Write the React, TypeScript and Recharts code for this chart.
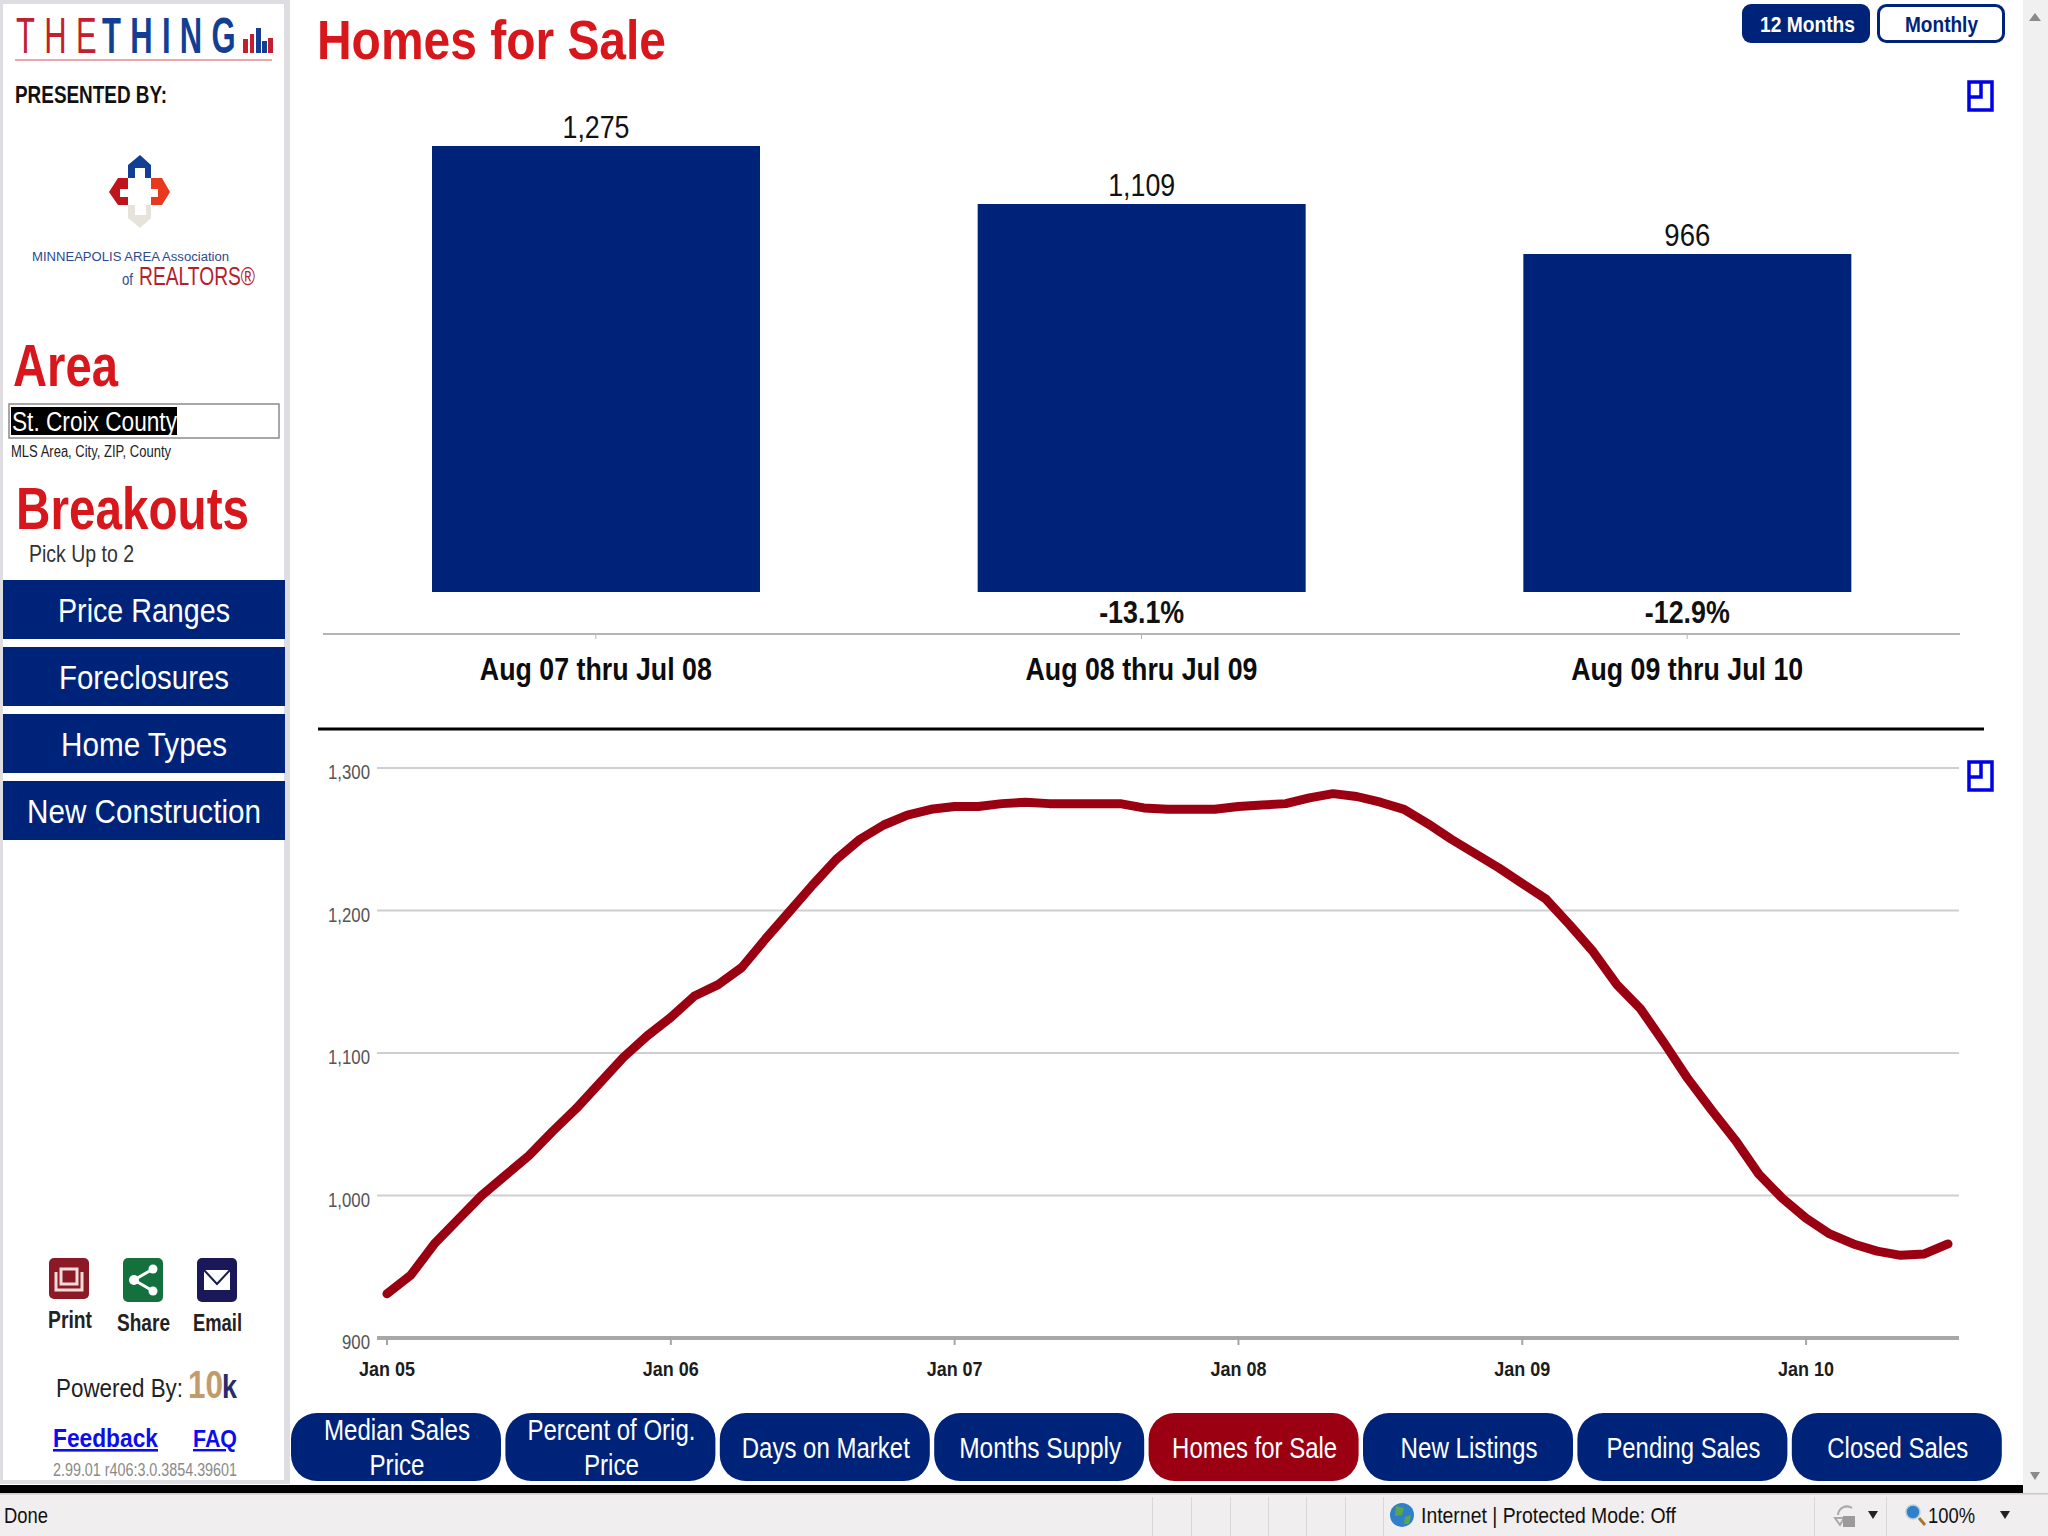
import React from "react";
import { BarChart, Bar, LineChart, Line, XAxis, YAxis, CartesianGrid, LabelList } from "recharts";

const NAVY = "#00237a";
const MAROON = "#9a0012";
const RED = "#d8171c";
const FONT = "'Liberation Sans', Arial, sans-serif";

const periodLabels = ["Aug 07 thru Jul 08", "Aug 08 thru Jul 09", "Aug 09 thru Jul 10"];
const periodValues = [1275, 1109, 966];
const periodChanges = ["", "-13.1%", "-12.9%"];

const monthNames = ["Jan", "Feb", "Mar", "Apr", "May", "Jun", "Jul", "Aug", "Sep", "Oct", "Nov", "Dec"];
const yearNames = ["05", "06", "07", "08", "09", "10"];
const monthLabels = yearNames.flatMap((yr) => monthNames.map((m) => `${m} ${yr}`)).slice(0, 67);

const homesForSale = [
  931, 944, 966, 983, 1000, 1014, 1028, 1045, 1061, 1079, 1097, 1112,
  1125, 1140, 1148, 1160, 1180, 1199, 1218, 1236, 1250, 1260, 1267, 1271,
  1273, 1273, 1275, 1276, 1275, 1275, 1275, 1275, 1272, 1271, 1271, 1271,
  1273, 1274, 1275, 1279, 1282, 1280, 1276, 1271, 1261, 1250, 1240, 1230,
  1219, 1208, 1190, 1171, 1148, 1131, 1107, 1082, 1060, 1039, 1015, 998,
  984, 973, 966, 961, 958, 959, 966,
];
const lineTicks = [900, 1000, 1100, 1200, 1300];

const navLabels = ["Price Ranges", "Foreclosures", "Home Types", "New Construction"];
const navWidths = [172, 170, 166, 234];
const tabLabels = [
  ["Median Sales", "Price"],
  ["Percent of Orig.", "Price"],
  ["Days on Market"],
  ["Months Supply"],
  ["Homes for Sale"],
  ["New Listings"],
  ["Pending Sales"],
  ["Closed Sales"],
];
const tabWidths = [[146, 55], [168, 55], [168], [162], [165], [137], [154], [141]];

const barData = periodLabels.map((label, i) => ({ label, value: periodValues[i], change: periodChanges[i] }));
const lineData = monthLabels.map((month, i) => ({ month, homes: homesForSale[i] }));

// squeezed text, the screenshot is stretched taller than it is wide
const T = ({ x, y, s, w, c = "#111", b = false, a = "start", u = false, f = FONT, children }: any) => (
  <text
    x={x}
    y={y}
    fontSize={s}
    fontFamily={f}
    fontWeight={b ? 700 : 400}
    fill={c}
    textAnchor={a}
    textLength={w}
    lengthAdjust="spacingAndGlyphs"
    textDecoration={u ? "underline" : undefined}
  >
    {children}
  </text>
);

const PeriodTick = ({ x, y, payload }: any) => (
  <T x={x} y={y + 39} s={32} w={232} b a="middle" c="#0c0c0c">{payload.value}</T>
);

const YearTick = ({ x, y, payload }: any) => (
  <T x={x} y={y + 29} s={21} w={56} b a="middle" c="#1c1c1c">{payload.value}</T>
);

const CountTick = ({ x, y, payload }: any) => (
  <T x={x + 1} y={y + 11} s={20} w={payload.value >= 1000 ? 42 : 28} a="end" c="#555">
    {payload.value.toLocaleString("en-US")}
  </T>
);

const ValueLabel = (props: any) => {
  const box = props.viewBox ?? props;
  return (
    <T x={box.x + box.width / 2} y={box.y - 8} s={31} w={props.value >= 1000 ? 67 : 46} a="middle" c="#111">
      {Number(props.value).toLocaleString("en-US")}
    </T>
  );
};

const ChangeLabel = (props: any) => {
  const box = props.viewBox ?? props;
  if (!props.value) return null;
  return (
    <T x={box.x + box.width / 2} y={box.y + box.height + 31} s={32} w={85} b a="middle" c="#111">
      {props.value}
    </T>
  );
};

const ExpandIcon = ({ y }: { y: number }) => (
  <g fill="none" stroke="#0000e6" strokeWidth={3.5}>
    <rect x={1969} y={y} width={23} height={28} />
    <path d={`M1969 ${y + 15} H1981 V${y}`} />
  </g>
);

const Chrome = () => (
  <svg width={2048} height={1536} style={{ position: "absolute", left: 0, top: 0 }}>
    {/* sidebar */}
    <rect x={0} y={0} width={290} height={1484} fill="#dedee2" />
    <rect x={3} y={4} width={281} height={1476} fill="#fff" />
    <text transform="translate(16 53) scale(0.62 1)" fontSize={50} fontFamily={FONT} letterSpacing={15} fill="#c2202f">THE</text>
    <text transform="translate(102 53) scale(0.62 1)" fontSize={50} fontFamily={FONT} fontWeight={700} letterSpacing={15} fill="#123f93">THING</text>
    <g>
      <rect x={243} y={39} width={5} height={14} fill="#c2202f" />
      <rect x={250} y={34} width={4} height={19} fill="#c2202f" />
      <rect x={256} y={28} width={5} height={25} fill="#123f93" />
      <rect x={262} y={41} width={5} height={12} fill="#123f93" />
      <rect x={268} y={38} width={5} height={15} fill="#c2202f" />
    </g>
    <rect x={15} y={59} width={257} height={2} fill="#eba9ad" />
    <T x={15} y={103} s={24} w={152} b>PRESENTED BY:</T>
    <path d="M128 178 V165 L140 155 L151 165 V178 H145 V168 H135 V178 Z" fill="#123f93" />
    <path d="M128 178 H118 L109 192 L118 205 H128 V197 H120 V189 H128 Z" fill="#c0141c" />
    <path d="M151 178 H162 L170 192 L162 205 H151 V197 H158 V189 H151 Z" fill="#e8391f" />
    <path d="M128 205 V218 L140 228 L151 218 V205 H146 V215 H135 V205 Z" fill="#e6e4da" />
    <T x={32} y={261} s={12.5} w={197} c="#2b4a8e">MINNEAPOLIS AREA Association</T>
    <T x={122} y={285} s={16} w={11} c="#2b4a8e">of</T>
    <T x={139} y={285} s={25} w={116} c="#b5202c">REALTORS®</T>
    <T x={13} y={386} s={60} w={105} b c={RED}>Area</T>
    <rect x={9} y={404} width={270} height={34} fill="#fff" stroke="#8b8b8b" strokeWidth={1.5} />
    <rect x={11} y={407} width={166} height={28} fill="#000" />
    <T x={12} y={431} s={27} w={165} c="#fff">St. Croix County</T>
    <T x={11} y={457} s={16} w={160} c="#222">MLS Area, City, ZIP, County</T>
    <T x={16} y={529} s={59} w={233} b c={RED}>Breakouts</T>
    <T x={29} y={562} s={24} w={105} c="#333">Pick Up to 2</T>
    {navLabels.map((label, i) => (
      <g key={label}>
        <rect x={3} y={580 + i * 67} width={282} height={59} fill={NAVY} />
        <T x={144} y={622 + i * 67} s={34} w={navWidths[i]} a="middle" c="#fff">{label}</T>
      </g>
    ))}
    {/* print, share, email */}
    <rect x={49} y={1258} width={40} height={41} rx={5} fill="#8c1a26" />
    <path d="M56 1272 V1290 H82 V1272 M61 1269 H77 V1284 H61 Z" fill="none" stroke="#f3dcdc" strokeWidth={3} />
    <rect x={123} y={1258} width={40} height={44} rx={5} fill="#14703d" />
    <path d="M153 1269 L134 1280 L153 1291" fill="none" stroke="#fff" strokeWidth={3} />
    <circle cx={153} cy={1269} r={4.5} fill="#fff" />
    <circle cx={134} cy={1280} r={5} fill="#fff" />
    <circle cx={153} cy={1291} r={4.5} fill="#fff" />
    <rect x={197} y={1258} width={40} height={44} rx={5} fill="#1a1858" />
    <rect x={204} y={1270} width={26} height={20} fill="#fff" />
    <path d="M204 1270 L217 1284 L230 1270" fill="none" stroke="#1a1858" strokeWidth={2} />
    <T x={48} y={1328} s={24} w={44} b c="#222">Print</T>
    <T x={117} y={1331} s={24} w={53} b c="#222">Share</T>
    <T x={193} y={1331} s={24} w={49} b c="#222">Email</T>
    <T x={56} y={1397} s={26} w={127} c="#222">Powered By:</T>
    <T x={188} y={1398} s={38} w={35} b c="#c19b6c">10</T>
    <T x={222} y={1398} s={34} w={15} b c="#2b2b6b">k</T>
    <T x={53} y={1447} s={26} w={105} b u c="#0c0ced">Feedback</T>
    <T x={193} y={1447} s={24} w={44} b u c="#0c0ced">FAQ</T>
    <T x={53} y={1476} s={18} w={184} c="#8a8a8a">2.99.01 r406:3.0.3854.39601</T>

    {/* header */}
    <T x={317} y={59} s={56} w={349} b c={RED}>Homes for Sale</T>
    <rect x={1742} y={4} width={128} height={39} rx={9} fill={NAVY} />
    <T x={1760} y={32} s={22} w={95} b c="#fff">12 Months</T>
    <rect x={1878.5} y={5.5} width={125} height={36} rx={8} fill="#fff" stroke={NAVY} strokeWidth={3} />
    <T x={1905} y={32} s={22} w={73} b c={NAVY}>Monthly</T>
    <ExpandIcon y={82} />
    <ExpandIcon y={762} />
    <rect x={318} y={727.5} width={1666} height={3} fill="#000" />

    {/* metric tabs */}
    {tabLabels.map((lines, i) => {
      const x = 291 + i * 214.4;
      const y0 = lines.length === 1 ? 1458 : 1440;
      return (
        <g key={lines[0]}>
          <rect x={x} y={1413} width={210} height={68} rx={26} fill={lines[0] === "Homes for Sale" ? MAROON : NAVY} />
          {lines.map((line, j) => (
            <T key={line} x={x + 106} y={y0 + j * 35} s={30} w={tabWidths[i][j]} a="middle" c="#fff">{line}</T>
          ))}
        </g>
      );
    })}

    {/* scrollbar and browser status bar */}
    <rect x={2023} y={0} width={25} height={1494} fill="#f0f0f0" />
    <path d="M2029 21 L2035 13 L2041 21 Z" fill="#8a8a8a" />
    <path d="M2030 1472 L2035 1480 L2040 1472 Z" fill="#8a8a8a" />
    <rect x={0} y={1485} width={2023} height={8} fill="#000" />
    <rect x={0} y={1493} width={2048} height={43} fill="#f0eeee" />
    <rect x={0} y={1493} width={2048} height={1.5} fill="#c9c9c9" />
    {[1152, 1191, 1230, 1268, 1306, 1345, 1383, 1814, 1886].map((x) => (
      <rect key={x} x={x} y={1497} width={1} height={39} fill="#d8d6d6" />
    ))}
    <T x={4} y={1523} s={22} w={44} c="#111">Done</T>
    <circle cx={1402} cy={1515} r={12} fill="#2f80c8" />
    <path d="M1396 1506 l8 2 l-2 7 l-7 1 Z M1405 1517 l6 -2 l-2 9 l-5 0 Z" fill="#5aa648" />
    <T x={1421} y={1523} s={22} w={255} c="#111">Internet | Protected Mode: Off</T>
    <path d="M1838 1515 a9 9 0 0 1 14 -7 M1840 1525 l-5 -7 h9 Z" fill="none" stroke="#a9a9a9" strokeWidth={2} />
    <rect x={1843} y={1516} width={12} height={11} fill="#9b9b9b" />
    <path d="M1868 1511 H1878 L1873 1519 Z" fill="#222" />
    <circle cx={1913} cy={1512} r={7} fill="#2f80c8" stroke="#bcd" strokeWidth={1.5} />
    <path d="M1919 1518 L1925 1525" stroke="#a8762c" strokeWidth={3} />
    <T x={1928} y={1523} s={22} w={47} c="#111">100%</T>
    <path d="M2000 1511 H2010 L2005 1519 Z" fill="#222" />
  </svg>
);

export default function App() {
  return (
    <div style={{ position: "absolute", left: 0, top: 0, width: 2048, height: 1536, background: "#fff", overflow: "hidden" }}>
      <Chrome />

      <div style={{ position: "absolute", left: 300, top: 90 }}>
        <BarChart width={1680} height={620} data={barData} margin={{ top: 0, right: 20, bottom: 46, left: 23 }}>
          <XAxis
            dataKey="label"
            interval={0}
            tick={<PeriodTick />}
            tickLine={{ stroke: "#b5b5b5" }}
            tickSize={5}
            axisLine={{ stroke: "#b5b5b5", strokeWidth: 2 }}
          />
          <YAxis hide domain={[-120, 1435]} />
          <Bar dataKey="value" fill={NAVY} barSize={328} isAnimationActive={false}>
            <LabelList dataKey="value" content={<ValueLabel />} />
            <LabelList dataKey="change" content={<ChangeLabel />} />
          </Bar>
        </BarChart>
      </div>

      <div style={{ position: "absolute", left: 300, top: 740 }}>
        <LineChart width={1680} height={680} data={lineData} margin={{ top: 28, right: 21, bottom: 52, left: 0 }}>
          <CartesianGrid vertical={false} stroke="#cfcfcf" strokeWidth={2} />
          <XAxis
            dataKey="month"
            interval={11}
            padding={{ left: 10, right: 11 }}
            tick={<YearTick />}
            tickLine={{ stroke: "#a5a5a5", strokeWidth: 2 }}
            tickSize={7}
            axisLine={{ stroke: "#a8a8a8", strokeWidth: 4 }}
          />
          <YAxis
            width={77}
            domain={[900, 1300]}
            ticks={lineTicks}
            tick={<CountTick />}
            axisLine={false}
            tickLine={false}
          />
          <Line
            type="linear"
            dataKey="homes"
            stroke={MAROON}
            strokeWidth={9}
            strokeLinecap="round"
            strokeLinejoin="round"
            dot={false}
            isAnimationActive={false}
          />
        </LineChart>
      </div>
    </div>
  );
}
